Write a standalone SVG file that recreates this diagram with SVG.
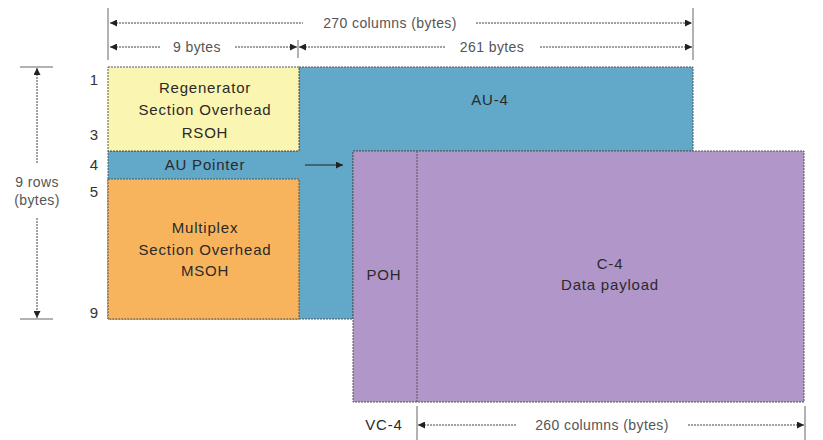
<svg xmlns="http://www.w3.org/2000/svg" width="823" height="440" viewBox="0 0 823 440">
<style>
.t{font-family:"Liberation Sans",Arial,sans-serif;font-size:15px;letter-spacing:0.8px;fill:#2a2a2a}
.n{font-family:"Liberation Sans",Arial,sans-serif;font-size:15px;fill:#333}
.g{font-family:"Liberation Sans",Arial,sans-serif;font-size:14px;letter-spacing:0.4px;fill:#555}
.dim{stroke:#444;stroke-width:1;stroke-dasharray:2 1;fill:none}
.tick{stroke:#666;stroke-width:1;fill:none}
.box{stroke:#555;stroke-width:1;stroke-dasharray:2 1}
</style>
<defs>
<marker id="ah" viewBox="0 0 10 10" refX="10" refY="5" markerWidth="10" markerHeight="7" orient="auto-start-reverse" markerUnits="userSpaceOnUse">
<path d="M0,0 L10,5 L0,10 z" fill="#222"/>
</marker>
</defs>
<g id="au4">
<path class="box" d="M299,67 H693 V151 H353 V319 H108 V151 H299 Z" fill="#62a8c9"/>
<text class="t" x="490" y="105" text-anchor="middle">AU-4</text>
</g>
<g id="rsoh">
<rect class="box" x="108" y="67" width="191" height="84" fill="#faf5b0"/>
<text class="t" x="205" y="93" text-anchor="middle">Regenerator</text>
<text class="t" x="205" y="115" text-anchor="middle">Section Overhead</text>
<text class="t" x="205" y="138" text-anchor="middle">RSOH</text>
</g>
<g id="aupointer">
<text class="t" x="205" y="170" text-anchor="middle">AU Pointer</text>
</g>
<g id="msoh">
<rect class="box" x="108" y="179" width="191" height="140" fill="#f8b45d"/>
<text class="t" x="205" y="233" text-anchor="middle">Multiplex</text>
<text class="t" x="205" y="255" text-anchor="middle">Section Overhead</text>
<text class="t" x="205" y="276" text-anchor="middle">MSOH</text>
</g>
<g id="vc4">
<rect class="box" x="353" y="151" width="451" height="251" fill="#b196ca"/>
<line class="box" x1="417" y1="151" x2="417" y2="402"/>
<text class="t" x="384" y="280" text-anchor="middle">POH</text>
<text class="t" x="610" y="269" text-anchor="middle">C-4</text>
<text class="t" x="610" y="290" text-anchor="middle">Data payload</text>
<text class="t" x="384" y="430" text-anchor="middle">VC-4</text>
</g>
<g id="rows">
<text class="n" x="94" y="85" text-anchor="middle">1</text>
<text class="n" x="94" y="140" text-anchor="middle">3</text>
<text class="n" x="94" y="170" text-anchor="middle">4</text>
<text class="n" x="94" y="197" text-anchor="middle">5</text>
<text class="n" x="94" y="318" text-anchor="middle">9</text>
</g>
<g id="connectors">
<line class="tick" x1="108" y1="8" x2="108" y2="60"/>
<line class="tick" x1="693" y1="8" x2="693" y2="60"/>
<line class="tick" x1="298" y1="40" x2="298" y2="58"/>
<line class="dim" x1="110" y1="23" x2="303" y2="23" marker-start="url(#ah)"/>
<line class="dim" x1="476" y1="23" x2="692" y2="23" marker-end="url(#ah)"/>
<line class="dim" x1="110" y1="47" x2="160" y2="47" marker-start="url(#ah)"/>
<line class="dim" x1="235" y1="47" x2="297" y2="47" marker-end="url(#ah)"/>
<line class="dim" x1="299" y1="47" x2="445" y2="47" marker-start="url(#ah)"/>
<line class="dim" x1="540" y1="47" x2="692" y2="47" marker-end="url(#ah)"/>
<line class="tick" x1="20" y1="67" x2="53" y2="67"/>
<line class="tick" x1="20" y1="319" x2="53" y2="319"/>
<line class="dim" x1="37" y1="163" x2="37" y2="68" marker-end="url(#ah)"/>
<line class="dim" x1="37" y1="218" x2="37" y2="318" marker-end="url(#ah)"/>
<line x1="305" y1="165" x2="343" y2="165" stroke="#222" stroke-width="1" marker-end="url(#ah)"/>
<line class="tick" x1="417" y1="406" x2="417" y2="440"/>
<line class="tick" x1="805" y1="406" x2="805" y2="440"/>
<line class="dim" x1="418" y1="425" x2="517" y2="425" marker-start="url(#ah)"/>
<line class="dim" x1="688" y1="425" x2="804" y2="425" marker-end="url(#ah)"/>
</g>
<g id="labels">
<text class="g" x="390" y="28" text-anchor="middle">270 columns (bytes)</text>
<text class="g" x="197" y="52" text-anchor="middle">9 bytes</text>
<text class="g" x="492" y="52" text-anchor="middle">261 bytes</text>
<text class="g" x="37" y="187" text-anchor="middle">9 rows</text>
<text class="g" x="37" y="205" text-anchor="middle">(bytes)</text>
<text class="g" x="602" y="430" text-anchor="middle">260 columns (bytes)</text>
</g>
</svg>
